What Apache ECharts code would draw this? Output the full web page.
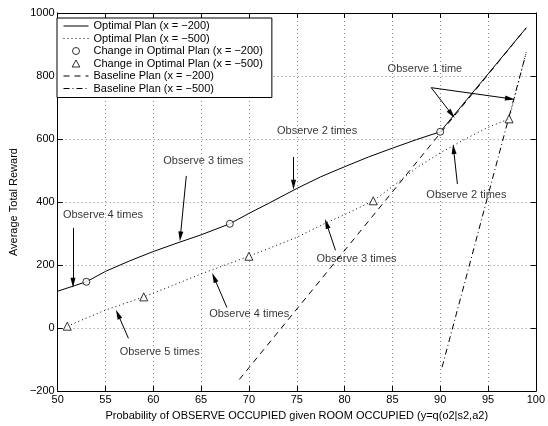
<!DOCTYPE html>
<html>
<head>
<meta charset="utf-8">
<script src="https://cdn.jsdelivr.net/npm/echarts@6/dist/echarts.min.js"></script>
<style>
html,body{margin:0;padding:0;background:#fff;}
#chart{width:548px;height:426px;}
</style>
</head>
<body>
<div id="chart"></div>
<script>
// ---- data ----
const xTicks = [50, 55, 60, 65, 70, 75, 80, 85, 90, 95, 100];
const yTicks = [-200, 0, 200, 400, 600, 800, 1000];

const optimal200 = [[50,117],[53,147],[55,180],[57.5,213],[60,243],[62.5,270],[65,296],[68,331],
  [70,364],[72,395],[75,443],[77.5,480],[80,512],[82.5,543],[85,571],[87.5,598],[90,623],[99,953]];
const optimal500 = [[51,6],[55,57],[59,99],[62,135],[65,172],[70,228],[75,288],[78,333],[80,360],
  [83,404],[85,449],[87.5,508],[90,556],[92.5,598],[95,637],[97.2,664],[99,875]];
const change200 = [[53,147],[68,331],[90,623]];
const change500 = [[51,6],[59,99],[70,228],[83,404],[97.2,664]];
const baseline200 = [[69,-163],[99,953]];
const baseline500 = [[90.2,-124],[99,875]];

const seriesNames = ['Optimal Plan (x = \u2212200)','Optimal Plan (x = \u2212500)',
  'Change in Optimal Plan (x = \u2212200)','Change in Optimal Plan (x = \u2212500)',
  'Baseline Plan (x = \u2212200)','Baseline Plan (x = \u2212500)'];

const noteTexts = ['Observe 1 time','Observe 2 times','Observe 3 times','Observe 4 times',
  'Observe 5 times','Observe 4 times','Observe 3 times','Observe 2 times'];
const notePos = [[84.5,823],[72.94,626],[61.04,531],[50.55,359],[56.48,-77],[65.84,44],[77.06,218],[88.55,422]];
const arrowFrom = [[89.06,763],[89.06,763],[74.66,543],[63.45,483],[51.6,318],[57.4,-32.5],[67.7,65],[79.05,247],[91.8,457]];
const arrowTo = [[91.2,679],[97.3,728],[74.66,455],[62.83,291],[51.6,144],[56.3,44],[66.36,160],[78.12,331],[91.4,568]];

// ---- chart ----
const FONT = 'Liberation Sans, Arial, Helvetica, sans-serif';
const chart = echarts.init(document.getElementById('chart'), null, {renderer:'canvas'});
const fmt = v => (v < 0 ? '\u2212' + Math.abs(v) : String(v));
const xMin = xTicks[0], xMax = xTicks[xTicks.length-1], xInt = xTicks[1]-xTicks[0];
const yMin = yTicks[0], yMax = yTicks[yTicks.length-1], yInt = yTicks[1]-yTicks[0];
const ARROW = 'path://M2.5,0 L5,10 L0,10 Z';
const TRI = 'path://M5,0 L10,9 L0,9 Z';

const axisCommon = {
  axisLine:{show:true, onZero:false, lineStyle:{color:'#000', width:1}},
  axisTick:{show:true, inside:true, length:5, lineStyle:{color:'#000', width:1}},
};
const lineIdx = [0,1,4,5];

const legendData = seriesNames.map((n,i)=> {
  if (lineIdx.includes(i)) return {name:n, itemStyle:{opacity:0}};
  if (i === 3) return {name:n, icon:TRI};
  return {name:n};
});

const option = {
  animation:false,
  backgroundColor:'#fff',
  textStyle:{fontFamily:FONT, color:'#000'},
  grid:{left:52, right:10, top:13, bottom:33, containLabel:false},
  legend:{
    orient:'vertical', left:57, top:18,
    data:legendData,
    itemWidth:25, itemHeight:7, itemGap:0.5,
    symbolKeepAspect:true,
    padding:[2,9,3,6],
    borderColor:'#000', borderWidth:1, backgroundColor:'#fff',
    itemStyle:{borderWidth:1},
    lineStyle:{width:1},
    textStyle:{fontSize:11, fontFamily:FONT, color:'#000', lineHeight:12},
    z:10
  },
  xAxis:[
    Object.assign({type:'value', min:xMin, max:xMax, interval:xInt, position:'bottom',
      name:'Probability of OBSERVE OCCUPIED given ROOM OCCUPIED (y=q(o2|s2,a2)',
      nameLocation:'middle', nameGap:16,
      nameTextStyle:{fontSize:11, color:'#000', fontFamily:FONT},
      axisLabel:{fontSize:11, color:'#000', margin:3, fontFamily:FONT, formatter:fmt},
      splitLine:{show:true, lineStyle:{color:'#888', type:[1,3], width:1}}}, axisCommon),
    Object.assign({type:'value', min:xMin, max:xMax, interval:xInt, position:'top',
      axisLabel:{show:false}, splitLine:{show:false}}, axisCommon)
  ],
  yAxis:[
    Object.assign({type:'value', min:yMin, max:yMax, interval:yInt, position:'left',
      name:'Average Total Reward', nameLocation:'middle', nameGap:36,
      nameTextStyle:{fontSize:11, color:'#000', fontFamily:FONT},
      axisLabel:{fontSize:11, color:'#000', margin:3, fontFamily:FONT, formatter:fmt},
      splitLine:{show:true, lineStyle:{color:'#888', type:[1,3], width:1}}}, axisCommon),
    Object.assign({type:'value', min:yMin, max:yMax, interval:yInt, position:'right',
      axisLabel:{show:false}, splitLine:{show:false}}, axisCommon)
  ],
  series:[
    {name:seriesNames[0], type:'line', data:optimal200, symbol:'none',
      lineStyle:{color:'#000', width:1, type:'solid'}, itemStyle:{color:'#000'}, z:3},
    {name:seriesNames[1], type:'line', data:optimal500, symbol:'none',
      lineStyle:{color:'#000', width:1, type:[1,3]}, itemStyle:{color:'#000'}, z:3},
    {name:seriesNames[2], type:'scatter', data:change200, symbol:'circle', symbolSize:7,
      itemStyle:{color:'#fff', borderColor:'#000', borderWidth:1}, z:4},
    {name:seriesNames[3], type:'scatter', data:change500, symbol:'triangle', symbolSize:8,
      itemStyle:{color:'#fff', borderColor:'#000', borderWidth:1}, z:4},
    {name:seriesNames[4], type:'line', data:baseline200, symbol:'none',
      lineStyle:{color:'#000', width:1, type:[6,5]}, itemStyle:{color:'#000'}, z:3},
    {name:seriesNames[5], type:'line', data:baseline500, symbol:'none',
      lineStyle:{color:'#000', width:1, type:[6,3,1,3]}, itemStyle:{color:'#000'}, z:3},
    {name:'notes', type:'scatter', symbolSize:0, silent:true,
      data:noteTexts.map((t,i)=>({name:t, value:notePos[i]})),
      label:{show:true, position:'right', distance:0, formatter:'{b}',
        fontSize:11, color:'#000', fontFamily:FONT},
      z:5},
    {name:'arrows', type:'line', data:[], silent:true,
      markLine:{silent:true, symbol:['none', ARROW], symbolSize:[5,10], animation:false,
        label:{show:false},
        lineStyle:{color:'#000', width:1, type:'solid'},
        itemStyle:{color:'#000'},
        emphasis:{disabled:true},
        data:arrowFrom.map((p,i)=>[{coord:p},{coord:arrowTo[i], symbolSize:[5,10]}])},
      z:5}
  ]
};
chart.setOption(option);
</script>
</body>
</html>
